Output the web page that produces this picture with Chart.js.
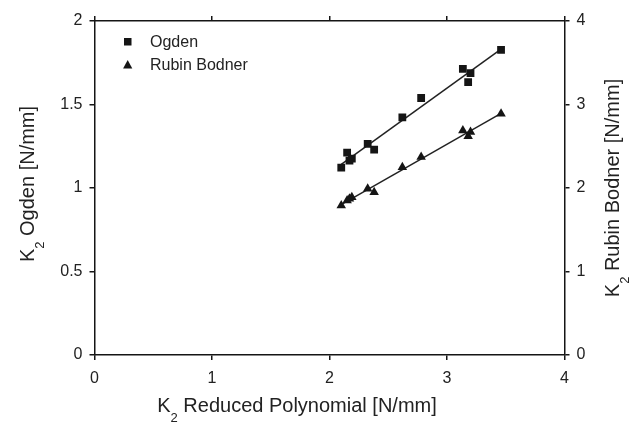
<!DOCTYPE html>
<html>
<head>
<meta charset="utf-8">
<script src="https://cdn.jsdelivr.net/npm/chart.js@4"></script>
<style>
  html, body { margin: 0; padding: 0; background: #fff; }
  #wrap { width: 638px; height: 423px; }
</style>
</head>
<body>
<div id="wrap"><canvas id="chart"></canvas></div>
<script>
// K2 values
const reducedK2 = [2.10, 2.15, 2.17, 2.19, 2.325, 2.38, 2.62, 2.78, 3.135, 3.18, 3.20, 3.46];
const ogdenK2 = [1.122, 1.212, 1.164, 1.176, 1.264, 1.23, 1.423, 1.539, 1.713, 1.634, 1.688, 1.827];
const rubinK2 = [1.79, 1.85, 1.87, 1.89, 1.99, 1.95, 2.25, 2.37, 2.69, 2.62, 2.67, 2.89];
const xTicks = [0, 1, 2, 3, 4];
const ogdenTicks = [0, 0.5, 1, 1.5, 2];
const rubinTicks = [0, 1, 2, 3, 4];

const ink = "#151515";
const font = "'Liberation Sans', Arial, sans-serif";

function points(xs, ys) {
  return xs.map((x, i) => ({ x: x, y: ys[i] }));
}

// least squares line through the data, drawn from min x to max x
function fitLine(xs, ys) {
  const n = xs.length;
  const mx = xs.reduce((a, b) => a + b, 0) / n;
  const my = ys.reduce((a, b) => a + b, 0) / n;
  let sxy = 0, sxx = 0;
  for (let i = 0; i < n; i++) {
    sxy += (xs[i] - mx) * (ys[i] - my);
    sxx += (xs[i] - mx) * (xs[i] - mx);
  }
  const k = sxy / sxx;
  const x0 = Math.min(...xs), x1 = Math.max(...xs);
  return [{ x: x0, y: my + k * (x0 - mx) }, { x: x1, y: my + k * (x1 - mx) }];
}

function fixedTicks(values) {
  return (scale) => { scale.ticks = values.map(v => ({ value: v })); };
}

function k2Text(ctx, x, y, rest, size, align) {
  // "K" with a lowered "2", then the rest
  const sub = Math.round(size * 0.66);
  ctx.font = size + "px " + font;
  const wK = ctx.measureText("K").width;
  ctx.font = sub + "px " + font;
  const w2 = ctx.measureText("2").width;
  ctx.font = size + "px " + font;
  const wR = ctx.measureText(rest).width;
  const total = wK + w2 + wR;
  let sx = align === "center" ? x - total / 2 : x;
  ctx.textAlign = "left";
  ctx.textBaseline = "alphabetic";
  ctx.fillText("K", sx, y);
  ctx.font = sub + "px " + font;
  ctx.fillText("2", sx + wK, y + size * 0.48);
  ctx.font = size + "px " + font;
  ctx.fillText(rest, sx + wK + w2, y);
}

const extras = {
  id: "extras",
  afterDraw(chart) {
    const ctx = chart.ctx;
    const a = chart.chartArea;
    ctx.save();
    ctx.fillStyle = "#222";

    k2Text(ctx, 297, 412, " Reduced Polynomial [N/mm]", 20, "center");

    ctx.save();
    ctx.translate(34, 184);
    ctx.rotate(-Math.PI / 2);
    k2Text(ctx, 0, 0, " Ogden [N/mm]", 20, "center");
    ctx.restore();

    ctx.save();
    ctx.translate(619, (a.top + a.bottom) / 2);
    ctx.rotate(-Math.PI / 2);
    k2Text(ctx, 0, 0, " Rubin Bodner [N/mm]", 20, "center");
    ctx.restore();

    // legend
    ctx.fillStyle = ink;
    ctx.fillRect(124, 38, 7.5, 7.5);
    ctx.beginPath();
    ctx.moveTo(127.7, 60);
    ctx.lineTo(132.3, 68.5);
    ctx.lineTo(123.1, 68.5);
    ctx.closePath();
    ctx.fill();
    ctx.fillStyle = "#222";
    ctx.font = "16px " + font;
    ctx.textAlign = "left";
    ctx.textBaseline = "middle";
    ctx.fillText("Ogden", 150, 43);
    ctx.fillText("Rubin Bodner", 150, 66);
    ctx.restore();
  }
};

const borderLook = { color: ink, width: 1.5 };
const gridLook = { display: true, drawOnChartArea: false, drawTicks: true, tickLength: 5, color: ink, lineWidth: 1.5 };
function tickLook(pad) {
  return { color: "#222", font: { family: font, size: 16 }, padding: pad, callback: (v) => String(v) };
}

new Chart(document.getElementById("chart"), {
  type: "scatter",
  data: {
    datasets: [
      {
        label: "Ogden",
        data: points(reducedK2, ogdenK2),
        yAxisID: "y",
        pointStyle: "rect",
        pointRadius: 5.5,
        backgroundColor: ink,
        borderColor: ink,
        borderWidth: 0
      },
      {
        label: "Rubin Bodner",
        data: points(reducedK2, rubinK2),
        yAxisID: "y2",
        pointStyle: "triangle",
        pointRadius: 5.5,
        backgroundColor: ink,
        borderColor: ink,
        borderWidth: 0
      },
      {
        label: "Ogden fit",
        data: fitLine(reducedK2, ogdenK2),
        yAxisID: "y",
        showLine: true,
        pointRadius: 0,
        borderColor: "#222",
        borderWidth: 1.5
      },
      {
        label: "Rubin Bodner fit",
        data: fitLine(reducedK2, rubinK2),
        yAxisID: "y2",
        showLine: true,
        pointRadius: 0,
        borderColor: "#222",
        borderWidth: 1.5
      }
    ]
  },
  options: {
    responsive: true,
    maintainAspectRatio: false,
    animation: false,
    layout: { padding: 0 },
    plugins: { legend: { display: false }, tooltip: { enabled: false } },
    scales: {
      x: {
        type: "linear", position: "bottom", min: 0, max: 4,
        afterBuildTicks: fixedTicks(xTicks),
        afterFit: (s) => { s.height = 68; },
        border: borderLook, grid: gridLook, ticks: tickLook(9)
      },
      x2: {
        type: "linear", position: "top", min: 0, max: 4,
        afterBuildTicks: fixedTicks(xTicks),
        afterFit: (s) => { s.height = 21; },
        border: borderLook, grid: gridLook,
        ticks: { display: false }
      },
      y: {
        type: "linear", position: "left", min: 0, max: 2,
        afterBuildTicks: fixedTicks(ogdenTicks),
        afterFit: (s) => { s.width = 94.5; },
        border: borderLook, grid: gridLook, ticks: tickLook(7)
      },
      y2: {
        type: "linear", position: "right", min: 0, max: 4,
        afterBuildTicks: fixedTicks(rubinTicks),
        afterFit: (s) => { s.width = 73.5; },
        border: borderLook, grid: gridLook, ticks: tickLook(7)
      }
    }
  },
  plugins: [extras]
});
</script>
</body>
</html>
